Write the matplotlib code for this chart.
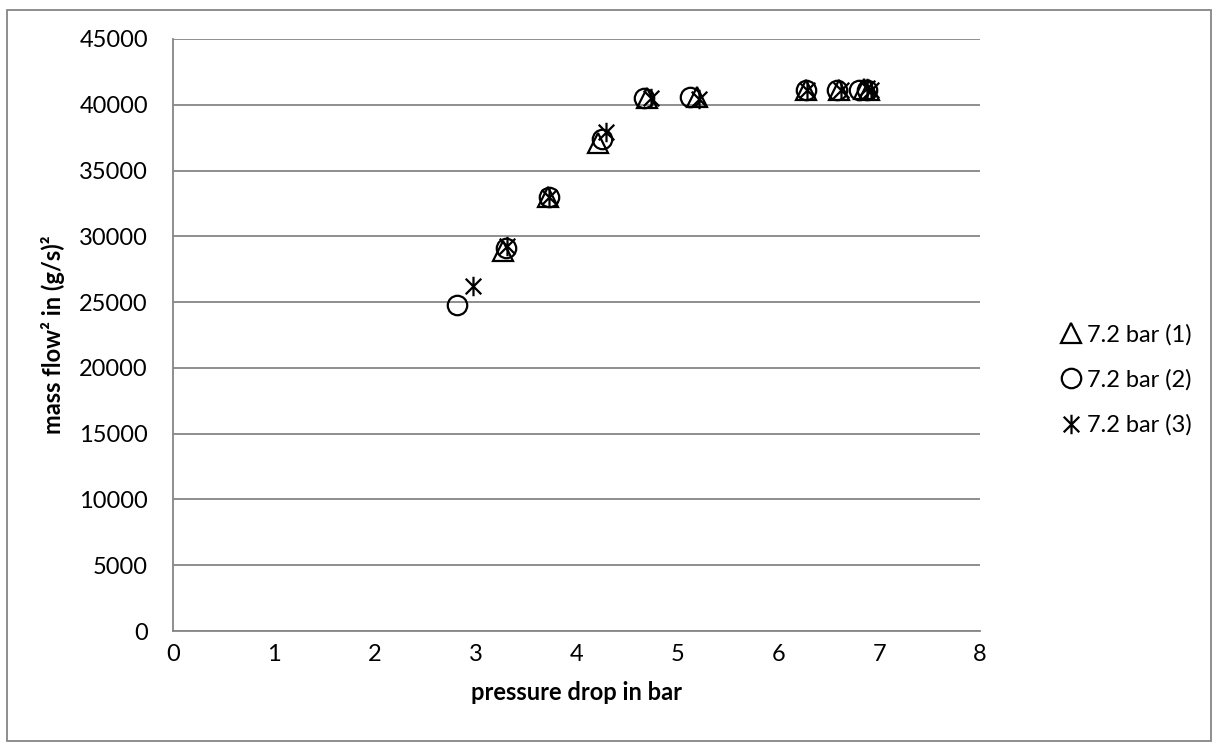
import matplotlib.pyplot as plt
from matplotlib.patches import Rectangle
from matplotlib.path import Path

# data
x1 = [3.27, 3.72, 4.21, 4.70, 5.19, 6.28, 6.60, 6.85, 6.90]
y1 = [28900, 33000, 37100, 40500, 40550, 41100, 41100, 41200, 41100]

x2 = [2.82, 3.30, 3.73, 4.25, 4.67, 5.13, 6.28, 6.58, 6.80, 6.88]
y2 = [24750, 29100, 33000, 37400, 40500, 40600, 41100, 41100, 41150, 41100]

x3 = [2.97, 3.31, 3.73, 4.29, 4.74, 5.21, 6.29, 6.62, 6.88, 6.92]
y3 = [26200, 29300, 33000, 37900, 40500, 40450, 41150, 41100, 41250, 41100]

labels = ['7.2 bar (1)', '7.2 bar (2)', '7.2 bar (3)']

# excel-like star: an X plus a vertical bar
star = Path([(-1, -1), (1, 1), (-1, 1), (1, -1), (0, -1.25), (0, 1.25)],
            [Path.MOVETO, Path.LINETO, Path.MOVETO, Path.LINETO, Path.MOVETO, Path.LINETO])

plt.rcParams['font.family'] = ['Lato', 'DejaVu Sans']

fig = plt.figure(figsize=(12.18, 7.49), dpi=100)
ax = fig.add_axes([0.142, 0.1575, 0.6626, 0.7905])

ax.plot(x1, y1, ls='none', marker='^', ms=14, mfc='none', mec='black', mew=1.6, label=labels[0])
ax.plot(x2, y2, ls='none', marker='o', ms=14, mfc='none', mec='black', mew=1.6, label=labels[1])
ax.plot(x3, y3, ls='none', marker=star, ms=14, mfc='none', mec='black', mew=1.6, label=labels[2])

ax.set_xlim(0, 8)
ax.set_ylim(0, 45000)
ax.set_xticks(range(0, 9))
ax.set_yticks(range(0, 45001, 5000))
ax.grid(axis='y', color='#868686', lw=1.3)
ax.set_axisbelow(True)
for s in ['top', 'right']:
    ax.spines[s].set_visible(False)
for s in ['left', 'bottom']:
    ax.spines[s].set_color('#868686')
    ax.spines[s].set_linewidth(1.3)
ax.tick_params(length=0, labelsize=17)
ax.tick_params(axis='x', pad=9)
ax.tick_params(axis='y', pad=18)

ax.set_xlabel('pressure drop in bar', fontsize=17, fontweight='bold', labelpad=12)
ax.set_ylabel('mass flow² in (g/s)²', fontsize=17, fontweight='bold', labelpad=10)

ax.legend(loc='center left', bbox_to_anchor=(1.07, 0.424), frameon=False, fontsize=17,
          handletextpad=0.15, handlelength=1.1, labelspacing=1.0)

fig.patches.append(Rectangle((0.006, 0.011), 0.988, 0.976, transform=fig.transFigure,
                             fill=False, ec='#868686', lw=1.3))

plt.savefig('out.png')
